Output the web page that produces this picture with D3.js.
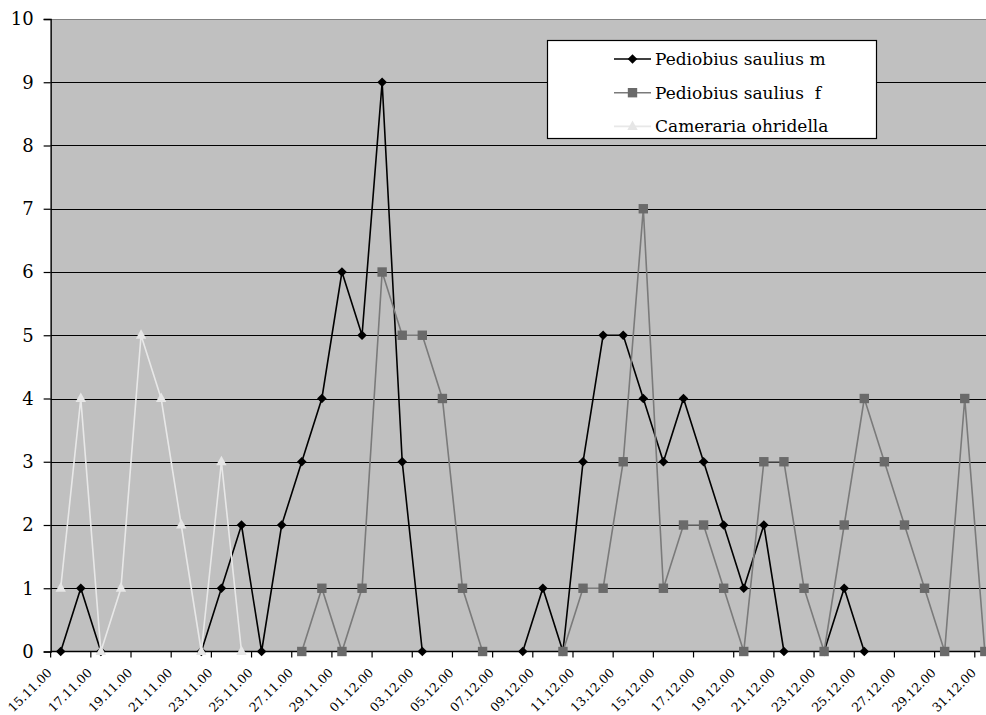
<!DOCTYPE html>
<html>
<head>
<meta charset="utf-8">
<script src="https://cdn.jsdelivr.net/npm/d3@7"></script>
<style>
  html, body { margin: 0; padding: 0; background: #ffffff; overflow: hidden; }
  svg { display: block; }
</style>
</head>
<body>
<svg id="chart" width="986" height="715"></svg>
<script>
// Daily trap counts, 15 Nov – 31 Dec 2000
const days = [
  "15.11.00","16.11.00","17.11.00","18.11.00","19.11.00","20.11.00","21.11.00","22.11.00",
  "23.11.00","24.11.00","25.11.00","26.11.00","27.11.00","28.11.00","29.11.00","30.11.00",
  "01.12.00","02.12.00","03.12.00","04.12.00","05.12.00","06.12.00","07.12.00","08.12.00",
  "09.12.00","10.12.00","11.12.00","12.12.00","13.12.00","14.12.00","15.12.00","16.12.00",
  "17.12.00","18.12.00","19.12.00","20.12.00","21.12.00","22.12.00","23.12.00","24.12.00",
  "25.12.00","26.12.00","27.12.00","28.12.00","29.12.00","30.12.00","31.12.00"
];
const tickLabels = days.filter((d, i) => i % 2 === 0);

const pediobiusMale = [
  0, 1, 0, null, null, null, null, 0,
  1, 2, 0, 2, 3, 4, 6, 5,
  9, 3, 0, null, null, null, null, 0,
  1, 0, 3, 5, 5, 4, 3, 4,
  3, 2, 1, 2, 0, null, 0, 1,
  0, null, null, null, null, null, null
];
const pediobiusFemale = [
  null, null, null, null, null, null, null, null,
  null, null, null, null, 0, 1, 0, 1,
  6, 5, 5, 4, 1, 0, null, null,
  null, 0, 1, 1, 3, 7, 1, 2,
  2, 1, 0, 3, 3, 1, 0, 2,
  4, 3, 2, 1, 0, 4, 0
];
const cameraria = [
  1, 4, 0, 1, 5, 4, 2, 0,
  3, 0, null, null, null, null, null, null,
  null, null, null, null, null, null, null, null,
  null, null, null, null, null, null, null, null,
  null, null, null, null, null, null, null, null,
  null, null, null, null, null, null, null
];
const seriesNames = ["Pediobius saulius m", "Pediobius saulius  f", "Cameraria ohridella"];
const yTicks = [0, 1, 2, 3, 4, 5, 6, 7, 8, 9, 10];

const FONT = "'DejaVu Serif', 'Liberation Serif', serif";

const svg = d3.select("#chart");

// Plot frame; the category axis runs a little past the right edge of the page
const plot = { left: 50.65, top: 19, bottom: 651.5, step: 20.09 };
plot.right = plot.left + plot.step * days.length;

const x = d3.scaleBand().domain(days).range([plot.left, plot.right]).padding(0);
const y = d3.scaleLinear().domain([0, 10]).range([plot.bottom, plot.top]);
const cx = d => x(d) + x.bandwidth() / 2;

// Plot background
svg.append("rect")
  .attr("x", plot.left).attr("y", plot.top)
  .attr("width", plot.right - plot.left).attr("height", plot.bottom - plot.top)
  .attr("fill", "#c0c0c0");

// Top border of the plot area
svg.append("line")
  .attr("x1", plot.left).attr("x2", plot.right)
  .attr("y1", plot.top + 0.5).attr("y2", plot.top + 0.5)
  .attr("stroke", "#808080").attr("stroke-width", 1.2);

// Horizontal gridlines
svg.append("g")
  .selectAll("line")
  .data(yTicks.filter(t => t > 0 && t < 10))
  .join("line")
  .attr("x1", plot.left).attr("x2", plot.right)
  .attr("y1", d => Math.round(y(d)) + 0.5).attr("y2", d => Math.round(y(d)) + 0.5)
  .attr("stroke", "#000").attr("stroke-width", 1.1);

// Y axis
const yAxis = d3.axisLeft(y).tickValues(yTicks).tickSize(7).tickPadding(10)
  .tickFormat(d3.format("d"));
const gy = svg.append("g").attr("transform", `translate(${plot.left},0)`).call(yAxis);
gy.select(".domain").attr("stroke", "#000").attr("stroke-width", 1.4);
gy.selectAll(".tick line").attr("stroke", "#000").attr("stroke-width", 1.2);
gy.selectAll(".tick text")
  .attr("font-family", FONT).attr("font-size", 18).attr("fill", "#000");

// X axis: ticks on every second category boundary, labels rotated
const gx = svg.append("g").attr("transform", `translate(0,${plot.bottom})`);
gx.append("line")
  .attr("x1", plot.left).attr("x2", plot.right)
  .attr("y1", 0).attr("y2", 0)
  .attr("stroke", "#000").attr("stroke-width", 1.4);
gx.selectAll("line.tick")
  .data(tickLabels)
  .join("line")
  .attr("class", "tick")
  .attr("x1", d => x(d)).attr("x2", d => x(d))
  .attr("y1", 0).attr("y2", 6)
  .attr("stroke", "#000").attr("stroke-width", 1.2);
gx.selectAll("text")
  .data(tickLabels)
  .join("text")
  .attr("transform", d => `translate(${cx(d) - 8},${22}) rotate(-45)`)
  .attr("text-anchor", "end")
  .attr("font-family", FONT).attr("font-size", 12.5)
  .attr("fill", "#000")
  .text(d => d);

// Series
const series = [
  { name: seriesNames[0], values: pediobiusMale, stroke: "#000000", fill: "#000000", symbol: "diamond" },
  { name: seriesNames[1], values: pediobiusFemale, stroke: "#7a7a7a", fill: "#6a6a6a", symbol: "square" },
  { name: seriesNames[2], values: cameraria, stroke: "#e8e8e8", fill: "#e6e6e6", symbol: "triangle" }
];

function markerPath(kind) {
  if (kind === "diamond") return "M0,-4.8L4.8,0L0,4.8L-4.8,0Z";
  if (kind === "square") return "M-4.7,-4.7H4.7V4.7H-4.7Z";
  return "M0,-6L5.2,3.6H-5.2Z";
}

const line = d3.line()
  .defined(d => d.v != null)
  .x(d => cx(d.day))
  .y(d => y(d.v));

series.forEach(s => {
  const pts = days.map((day, i) => ({ day, v: s.values[i] }));
  const g = svg.append("g");
  g.append("path")
    .datum(pts)
    .attr("d", line)
    .attr("fill", "none")
    .attr("stroke", s.stroke)
    .attr("stroke-width", 1.6);
  g.selectAll("path.mark")
    .data(pts.filter(p => p.v != null))
    .join("path")
    .attr("class", "mark")
    .attr("transform", p => `translate(${cx(p.day)},${y(p.v)})`)
    .attr("d", markerPath(s.symbol))
    .attr("fill", s.fill);
});

// Legend
const legend = svg.append("g");
legend.append("rect")
  .attr("x", 547.5).attr("y", 40.5)
  .attr("width", 329).attr("height", 98)
  .attr("fill", "#ffffff").attr("stroke", "#000").attr("stroke-width", 1.2);
series.forEach((s, i) => {
  const ry = 59 + i * 33.7;
  legend.append("line")
    .attr("x1", 614).attr("x2", 651).attr("y1", ry).attr("y2", ry)
    .attr("stroke", s.stroke).attr("stroke-width", 1.6);
  legend.append("path")
    .attr("transform", `translate(632.5,${ry})`)
    .attr("d", markerPath(s.symbol))
    .attr("fill", s.fill);
  legend.append("text")
    .attr("x", 655).attr("y", ry + 6)
    .attr("font-family", FONT).attr("font-size", 17)
    .attr("fill", "#000")
    .attr("xml:space", "preserve")
    .style("white-space", "pre")
    .text(s.name);
});
</script>
</body>
</html>
